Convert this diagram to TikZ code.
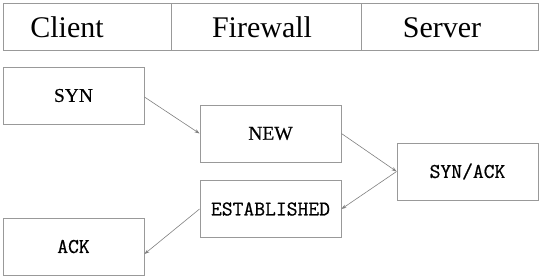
\documentclass[tikz,border=0pt]{standalone}
\usepackage{fontspec}
\setmainfont{Liberation Serif}
\newfontfamily\monof[FakeBold=0.7]{Latin Modern Mono}
\newfontfamily\boxserif[FakeBold=0.4]{Liberation Serif}
\usetikzlibrary{arrows.meta}
\begin{document}
\begin{tikzpicture}[x=1pt,y=-1pt,
  hdrbox/.style={draw=black!40,line width=0.9pt,rectangle,minimum height=47pt,inner sep=0pt},
  hdrtext/.style={font=\rmfamily\fontsize{30}{32}\selectfont,inner sep=0pt},
  stbox/.style={draw=black!40,line width=0.9pt,rectangle,minimum width=141pt,minimum height=57pt,inner sep=0pt},
  serift/.style={font=\boxserif\fontsize{19.5}{21}\selectfont},
  monot/.style={font=\monof\fontsize{21}{23}\selectfont},
  flow/.style={draw=black!50,line width=0.6pt,-{Stealth[length=5pt,width=3.5pt,inset=1.5pt]}}]
\useasboundingbox (0,0) rectangle (541,276);
% header
\node[hdrbox,minimum width=168pt] (hc) at (87,26.5) {};
\node[hdrbox,minimum width=190pt] (hf) at (266,26.5) {};
\node[hdrbox,minimum width=177pt] (hs) at (449.5,26.5) {};
\node[hdrtext] (tc) at (67,27.5) {Client};
\node[hdrtext] (tf) at (262,27.5) {Firewall};
\node[hdrtext] (ts) at (442,27.5) {Server};
% state boxes
\node[stbox,serift] (syn) at (73.5,95.5) {SYN};
\node[stbox,serift] (new) at (270.5,133.5) {NEW};
\node[stbox,monot] (est) at (270.5,209) {ESTABLISHED};
\node[stbox,monot] (ack) at (73.5,246.5) {ACK};
\node[stbox,monot] (synack) at (467.5,171.5) {SYN/ACK};
% connectors
\draw[flow] ([yshift=-1.5pt]syn.east) -- (new.west);
\draw[flow] (new.east) -- (synack.west);
\draw[flow] (synack.west) -- (est.east);
\draw[flow] (est.west) -- ([yshift=-7.5pt]ack.east);
\end{tikzpicture}
\end{document}
